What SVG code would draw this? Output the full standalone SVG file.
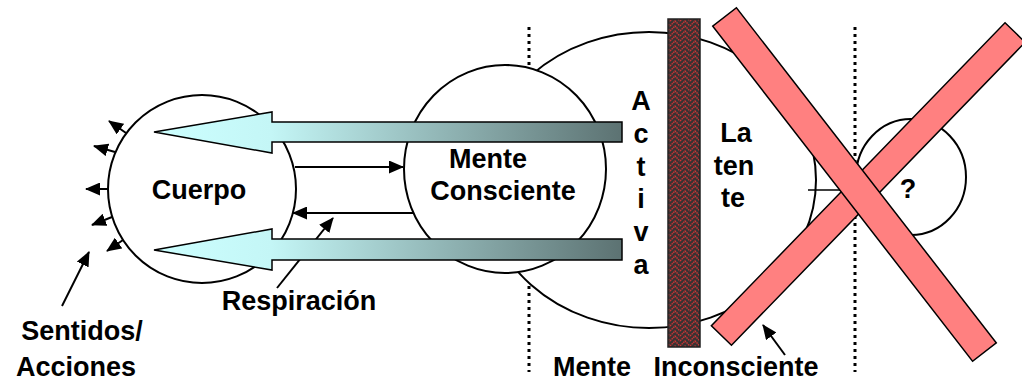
<svg xmlns="http://www.w3.org/2000/svg" width="1022" height="380" viewBox="0 0 1022 380">
<style>
.t{font-family:"Liberation Sans",Arial,sans-serif;font-weight:bold;font-size:27px;fill:#000;text-anchor:middle}
.node{fill:#fff;stroke:#000;stroke-width:2}
.dot{stroke:#000;stroke-width:3;stroke-dasharray:3 4;fill:none}
.ln{stroke:#000;stroke-width:2;fill:none;marker-end:url(#ah)}
.big{fill:url(#g1);stroke:#000;stroke-width:1.5}
.xbar{fill:#ff8080;stroke:#000;stroke-width:1.5}
</style>
<defs>
<marker id="ah" markerUnits="userSpaceOnUse" markerWidth="15" markerHeight="13" viewBox="0 0 15 13" refX="14" refY="6.5" orient="auto">
<path d="M0,0 L15,6.5 L0,13 z" fill="#000"/>
</marker>
<linearGradient id="g1" gradientUnits="userSpaceOnUse" x1="154" y1="0" x2="622" y2="0">
<stop offset="0" stop-color="#ccffff"/>
<stop offset="0.25" stop-color="#c4f6f6"/>
<stop offset="1" stop-color="#5c7272"/>
</linearGradient>
<pattern id="brick" patternUnits="userSpaceOnUse" width="10" height="10">
<rect width="10" height="10" fill="#3a3232"/>
<path d="M0,6 L5,1 L10,6 M0,11 L5,6 L10,11 M0,1 L5,-4 L10,1" stroke="#d03434" stroke-width="1.4" fill="none" stroke-dasharray="1.5 0.8"/>
</pattern>
</defs>

<g id="separadores">
<line class="dot" x1="529" y1="27" x2="529" y2="372"/>
<line class="dot" x1="855" y1="27" x2="855" y2="372"/>
</g>

<g id="mente-inconsciente">
<ellipse class="node" cx="649" cy="180" rx="167" ry="148"/>
</g>

<g id="cuerpo">
<circle class="node" cx="202" cy="189" r="94"/>
<text class="t" x="199" y="199">Cuerpo</text>
</g>

<g id="mente-consciente">
<ellipse class="node" cx="505" cy="169" rx="101" ry="104"/>
<text class="t" x="488" y="168">Mente</text>
<text class="t" x="503" y="200">Consciente</text>
</g>

<g id="connectors">
<line class="ln" x1="126" y1="133" x2="109" y2="121"/>
<line class="ln" x1="115" y1="152" x2="94" y2="146"/>
<line class="ln" x1="108" y1="189" x2="86" y2="189"/>
<line class="ln" x1="112" y1="217" x2="92" y2="225"/>
<line class="ln" x1="123" y1="240" x2="107" y2="251"/>
<line class="ln" x1="62" y1="306" x2="89" y2="252"/>
<line class="ln" x1="295" y1="167" x2="403" y2="167"/>
<line class="ln" x1="413" y1="213" x2="293" y2="213"/>
<line class="ln" x1="277" y1="288" x2="333" y2="218"/>
<polygon class="big" points="154,132 272,112 272,122 622,122 622,142 272,142 272,153"/>
<polygon class="big" points="154,250 272,229 272,239 622,239 622,260 272,260 272,270"/>
<line stroke="#000" stroke-width="1.5" x1="808" y1="190" x2="843" y2="190"/>
<line class="ln" x1="785" y1="355" x2="763" y2="325"/>
</g>

<g id="barrera">
<rect x="668" y="19" width="32" height="328" fill="url(#brick)" stroke="#222" stroke-width="1.5"/>
</g>

<g id="activa">
<text class="t" x="641" y="110">A</text>
<text class="t" x="641" y="143">c</text>
<text class="t" x="641" y="176">t</text>
<text class="t" x="641" y="208">i</text>
<text class="t" x="641" y="241">v</text>
<text class="t" x="641" y="274">a</text>
</g>

<g id="latente">
<text class="t" x="736" y="142">La</text>
<text class="t" x="734" y="175">ten</text>
<text class="t" x="733" y="207">te</text>
</g>

<g id="desconocido">
<ellipse class="node" cx="911" cy="177" rx="55" ry="58"/>
<text class="t" x="908" y="198">?</text>
</g>

<g id="cruz">
<rect class="xbar" x="-211" y="-14" width="422" height="28" transform="translate(868.25,184) rotate(-45.9)"/>
<rect class="xbar" x="-212" y="-15" width="424" height="30" transform="translate(854.5,184.5) rotate(52.2)"/>
</g>

<g id="etiquetas">
<text class="t" x="299" y="310">Respiración</text>
<text class="t" x="82" y="340">Sentidos/</text>
<text class="t" x="76" y="376">Acciones</text>
<text class="t" x="592" y="376">Mente</text>
<text class="t" x="736" y="376">Inconsciente</text>
</g>
</svg>
